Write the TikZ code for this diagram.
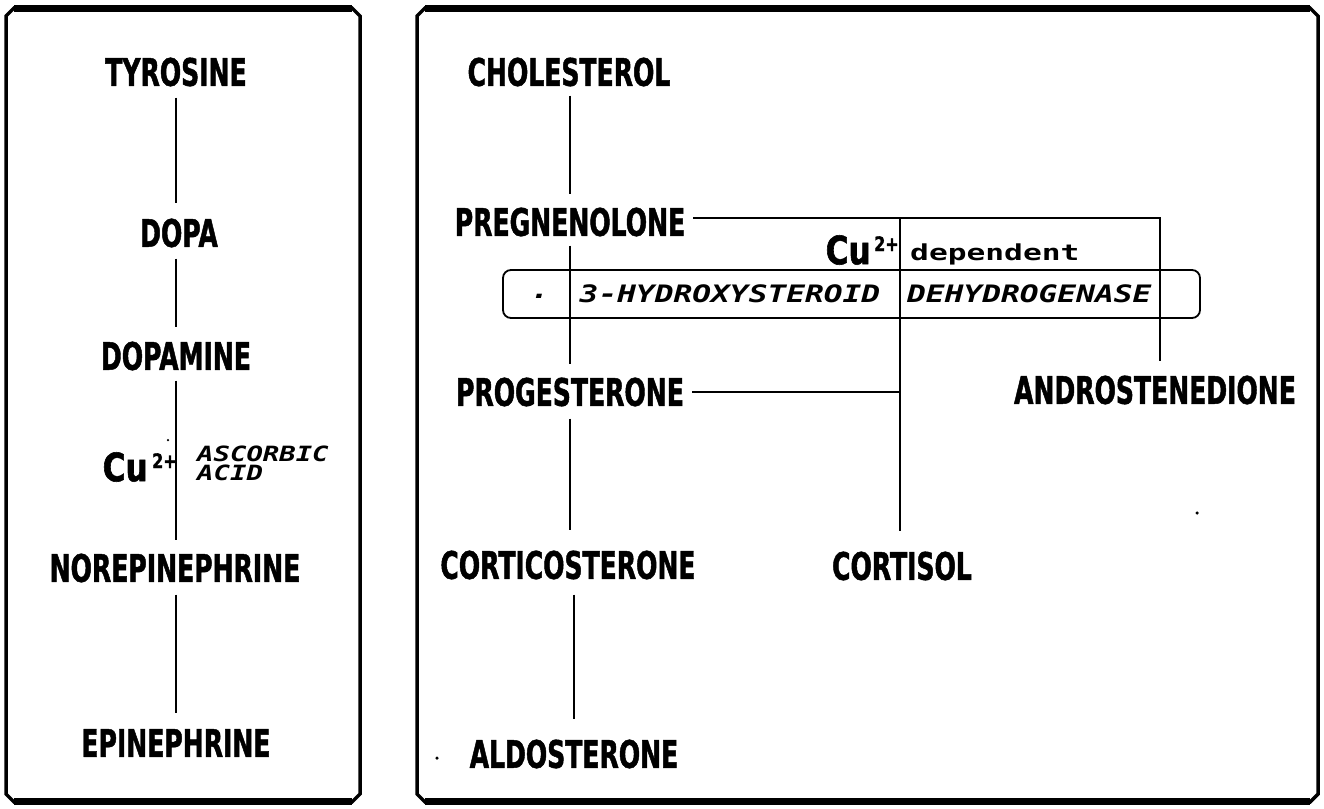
\documentclass[tikz,border=0pt]{standalone}
\usepackage{fontspec}
\usetikzlibrary{calc}
\newfontfamily\lblfont[FakeStretch=0.66,FakeBold=1.2]{DejaVu Sans}
\newfontfamily\enzfont[FakeStretch=1.3]{DejaVu Sans Mono}
\newfontfamily\enzwfont[FakeStretch=1.42]{DejaVu Sans Mono}
\newfontfamily\cufont[FakeStretch=0.8,FakeBold=1.5]{DejaVu Sans}
\begin{document}
\begin{tikzpicture}[x=1pt,y=-1pt,
  lbl/.style={font=\lblfont\bfseries\fontsize{38}{38}\selectfont, inner sep=0pt},
  enz/.style={font=\enzfont\bfseries\itshape\fontsize{24}{24}\selectfont, inner sep=0pt},
  asc/.style={font=\enzfont\bfseries\itshape\fontsize{21}{19}\selectfont, inner sep=0pt, align=left, anchor=west},
  dep/.style={font=\enzwfont\bfseries\fontsize{22}{22}\selectfont, inner sep=0pt},
  cu/.style={font=\cufont\bfseries\fontsize{39}{39}\selectfont, inner sep=0pt},
  sup/.style={font=\cufont\bfseries\fontsize{20}{20}\selectfont, inner sep=0pt},
  conn/.style={line width=1.6pt},
  side/.style={line width=3.5pt},
  edge/.style={line width=7pt},
  dot/.style={fill=black, circle, inner sep=0pt, minimum size=3.5pt}]
\useasboundingbox (0,0) rectangle (1324,808);
% frames
\draw[side] (6,16) -- (6,794) -- (14,802) -- (352,802) -- (360,794) -- (360,16) -- (352,8) -- (14,8) -- cycle;
\draw[edge] (14,9) -- (352,9);
\draw[edge] (14,801) -- (352,801);
\draw[side] (417,16) -- (417,794) -- (425,802) -- (1310,802) -- (1318,794) -- (1318,16) -- (1310,8) -- (425,8) -- cycle;
\draw[edge] (425,9) -- (1310,9);
\draw[edge] (425,801) -- (1310,801);
% left panel
\node[lbl] (tyr) at (176,72) {TYROSINE};
\node[lbl] (dopa) at (179,233) {DOPA};
\node[lbl] (dopamine) at (176,356) {DOPAMINE};
\node[cu, anchor=east] (cu1) at (148,467) {Cu};
\node[sup, anchor=north west] (s1) at (152,453) {2+};
\node[asc] (asc) at (197,463) {ASCORBIC\\ACID};
\node[lbl] (norepi) at (175,568) {NOREPINEPHRINE};
\node[lbl] (epi) at (176,743) {EPINEPHRINE};
\coordinate (LL) at (176,0);
\draw[conn] ($(tyr.south -| LL)+(0,11)$) -- ($(dopa.north -| LL)+(0,-15)$);
\draw[conn] ($(dopa.south -| LL)+(0,11)$) -- ($(dopamine.north -| LL)+(0,-14)$);
\draw[conn] ($(dopamine.south -| LL)+(0,10)$) -- ($(norepi.north -| LL)+(0,-13)$);
\draw[conn] ($(norepi.south -| LL)+(0,12)$) -- ($(epi.north -| LL)+(0,-16)$);
\node[dot, minimum size=2.5pt] (d1) at (168,440) {};
% right panel
\node[lbl] (chol) at (569,72) {CHOLESTEROL};
\node[lbl] (preg) at (570,222) {PREGNENOLONE};
\node[lbl] (prog) at (570,392) {PROGESTERONE};
\node[lbl] (andro) at (1155,390) {ANDROSTENEDIONE};
\node[lbl] (cortico) at (568,565) {CORTICOSTERONE};
\node[lbl] (cortisol) at (902,566) {CORTISOL};
\node[lbl] (aldo) at (574,754) {ALDOSTERONE};
\node[cu, anchor=east] (cu2) at (871,250) {Cu};
\node[sup, anchor=north west] (s2) at (874,236) {2+};
\node[dep, anchor=west] (dep) at (910,254) {dependent};
\draw[line width=1.8pt, rounded corners=8pt] (503,270) rectangle (1200,318);
\node[enz] (enzdot) at (540,296) {.};
\node[enz] (hyd) at (730,294) {3-HYDROXYSTEROID};
\node[enz, anchor=west] (deh) at (907,294) {DEHYDROGENASE};
\coordinate (RL) at (570,0);
\coordinate (K) at (900,0);
\coordinate (J) at (1160,0);
\coordinate (pl) at ($(preg.east)+(8,-4)$);
\draw[conn] ($(chol.south -| RL)+(0,9)$) -- ($(preg.north -| RL)+(0,-13)$);
\draw[conn] ($(preg.south -| RL)+(0,9)$) -- ($(prog.north -| RL)+(0,-13)$);
\draw[conn] ($(prog.south -| RL)+(0,12)$) -- ($(cortico.north -| RL)+(0,-20)$);
\draw[line width=2.6pt] ($(cortico.south)+(6,15)$) -- ($(aldo.north)+(0,-20)$);
\draw[conn] (pl) -| ($(andro.north -| J)+(0,-14)$);
\draw[conn] (pl -| K) -- ($(cortisol.north -| K)+(0,-20)$);
\draw[conn] ($(prog.east)+(8,0)$) -- (prog.east -| K);
\node[dot] (d2) at (1197,513) {};
\node[dot] (d3) at (437,758) {};
\end{tikzpicture}
\end{document}
